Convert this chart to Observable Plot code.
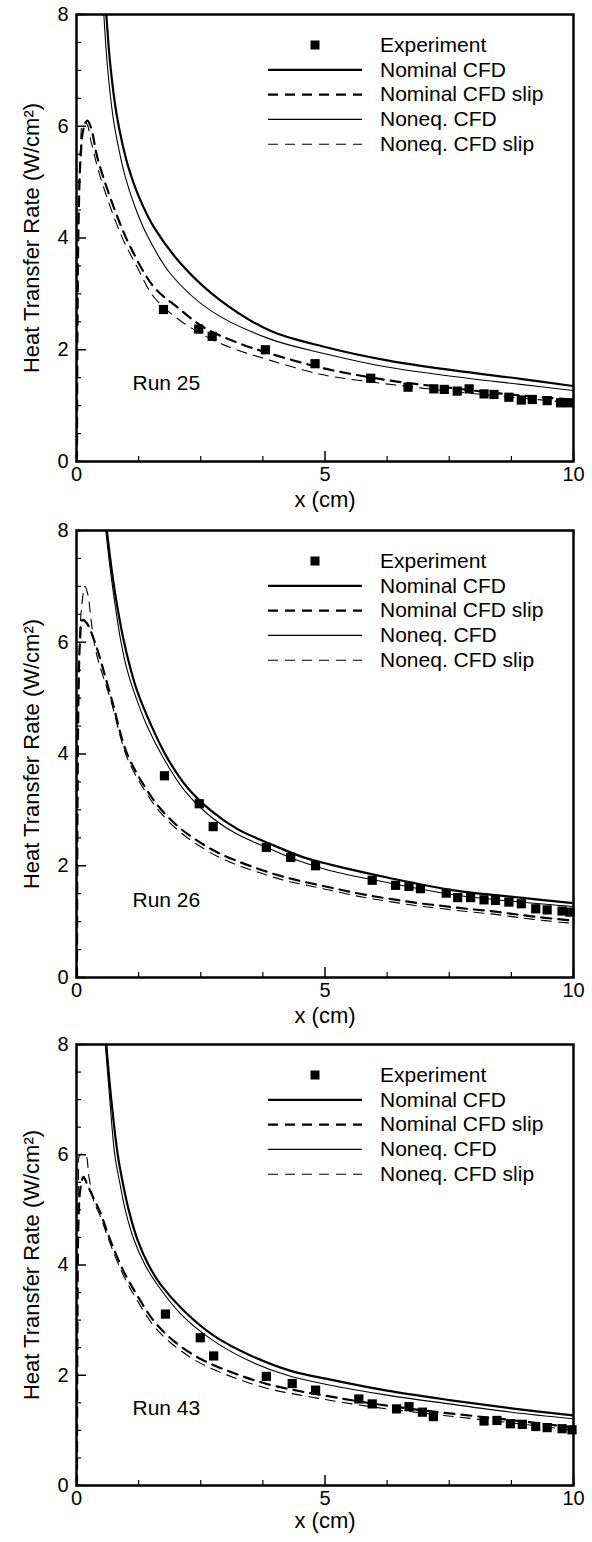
<!DOCTYPE html>
<html>
<head>
<meta charset="utf-8">
<script src="https://cdn.jsdelivr.net/npm/d3@7"></script>
<script src="https://cdn.jsdelivr.net/npm/@observablehq/plot@0.6"></script>
<style>
  html, body { margin: 0; padding: 0; background: #fff; }
  #chart svg { display: block; }
</style>
</head>
<body>
<div id="chart"></div>
<script>
// ---------- labels & ticks ----------
const runLabels = ["Run 25", "Run 26", "Run 43"];
const legendLabels = ["Experiment", "Nominal CFD", "Nominal CFD slip", "Noneq. CFD", "Noneq. CFD slip"];
const xLabel = "x (cm)";
const yLabel = "Heat Transfer Rate (W/cm²)";
const xTicks = [0, 5, 10];
const yTicks = [0, 2, 4, 6, 8];
const xMinorTicks = [1.25, 2.5, 3.75, 6.25, 7.5, 8.75];
const yMinorTicks = [0.5, 1, 1.5, 2.5, 3, 3.5, 4.5, 5, 5.5, 6.5, 7, 7.5];

// ---------- Run 25 ----------
const run25Experiment = [[1.75,2.72],[2.46,2.37],[2.73,2.24],[3.80,2.00],[4.80,1.75],[5.92,1.49],[6.67,1.33],[7.19,1.30],[7.40,1.29],[7.66,1.26],[7.90,1.30],[8.20,1.21],[8.40,1.20],[8.70,1.15],[8.95,1.10],[9.17,1.11],[9.47,1.09],[9.74,1.05],[9.91,1.05]];
const run25Nominal = [[0.60,8],[0.68,7.1],[0.80,6.25],[0.92,5.7],[1.05,5.25],[1.25,4.75],[1.56,4.19],[2.16,3.48],[2.90,2.88],[3.90,2.34],[5.0,2.05],[6.25,1.81],[7.59,1.63],[8.93,1.48],[10,1.35]];
const run25NominalSlip = [[0.01,0],[0.02,2.5],[0.04,4.2],[0.08,5.4],[0.14,5.95],[0.22,6.1],[0.30,5.95],[0.42,5.44],[0.75,4.55],[1.09,3.83],[1.56,3.12],[2.03,2.76],[2.56,2.40],[3.23,2.13],[3.90,1.93],[4.91,1.68],[5.45,1.58],[6.45,1.43],[7.5,1.32],[8.5,1.22],[9.5,1.14],[10,1.11]];
const run25Noneq = [[0.55,8],[0.62,7.1],[0.73,6.2],[0.85,5.6],[0.98,5.1],[1.18,4.55],[1.42,4.05],[1.89,3.36],[2.70,2.70],[3.90,2.19],[5.0,1.93],[6.25,1.69],[7.59,1.52],[8.93,1.38],[10,1.27]];
const run25NoneqSlip = [[0.01,0],[0.02,2.5],[0.04,4.4],[0.08,5.6],[0.13,6.05],[0.20,6.05],[0.30,5.7],[0.48,5.09],[0.89,4.07],[1.22,3.48],[1.56,2.94],[2.09,2.52],[2.90,2.11],[3.90,1.81],[4.91,1.56],[5.45,1.48],[6.5,1.36],[7.5,1.26],[8.5,1.17],[9.5,1.09],[10,1.05]];

// ---------- Run 26 ----------
const run26Experiment = [[1.77,3.61],[2.47,3.11],[2.75,2.70],[3.82,2.33],[4.31,2.15],[4.81,2.00],[5.95,1.74],[6.42,1.65],[6.69,1.63],[6.92,1.59],[7.44,1.51],[7.67,1.43],[7.93,1.43],[8.20,1.39],[8.43,1.38],[8.70,1.35],[8.95,1.32],[9.24,1.23],[9.47,1.21],[9.77,1.19],[9.93,1.17]];
const run26Nominal = [[0.61,8],[0.70,7.35],[0.80,6.75],[0.95,6.03],[1.08,5.55],[1.22,5.13],[1.49,4.54],[1.82,3.94],[2.23,3.40],[2.70,2.99],[3.23,2.66],[3.90,2.39],[4.57,2.15],[5.11,2.02],[6.25,1.79],[7.59,1.56],[8.93,1.43],[10,1.33]];
const run26NominalSlip = [[0.01,0],[0.02,3.0],[0.04,5.0],[0.07,6.0],[0.12,6.4],[0.20,6.35],[0.37,6.0],[0.70,5.0],[1.02,4.0],[1.42,3.35],[1.69,3.02],[2.06,2.69],[2.43,2.45],[2.83,2.24],[3.30,2.06],[3.74,1.92],[4.17,1.80],[4.64,1.70],[5.11,1.61],[5.58,1.52],[6.0,1.45],[6.44,1.39],[6.88,1.33],[7.38,1.28],[7.85,1.23],[8.32,1.19],[8.76,1.14],[9.2,1.09],[9.74,1.04],[10,1.02]];
const run26Noneq = [[0.59,8],[0.68,7.3],[0.78,6.65],[0.89,6.03],[1.02,5.5],[1.15,5.13],[1.42,4.5],[1.76,3.91],[2.17,3.35],[2.63,2.93],[3.2,2.58],[3.90,2.30],[4.5,2.08],[5.11,1.91],[6.25,1.70],[7.59,1.48],[8.93,1.35],[10,1.27]];
const run26NoneqSlip = [[0.01,0],[0.02,3.5],[0.05,5.6],[0.10,6.6],[0.17,7.0],[0.23,6.85],[0.30,6.35],[0.40,5.8],[0.70,4.93],[1.02,3.93],[1.42,3.28],[1.69,2.95],[2.06,2.62],[2.43,2.38],[2.83,2.17],[3.30,1.99],[3.74,1.86],[4.17,1.74],[4.64,1.65],[5.11,1.56],[5.58,1.47],[6.0,1.40],[6.44,1.34],[6.88,1.28],[7.38,1.23],[7.85,1.18],[8.32,1.14],[8.76,1.09],[9.2,1.04],[9.74,0.99],[10,0.97]];

// ---------- Run 43 ----------
const run43Experiment = [[1.79,3.11],[2.49,2.68],[2.76,2.35],[3.82,1.98],[4.34,1.85],[4.81,1.73],[5.68,1.57],[5.95,1.48],[6.44,1.39],[6.69,1.43],[6.96,1.33],[7.18,1.25],[8.20,1.17],[8.46,1.18],[8.73,1.12],[8.97,1.11],[9.24,1.07],[9.47,1.05],[9.77,1.03],[9.97,1.01]];
const run43Nominal = [[0.60,8],[0.70,7.0],[0.83,6.0],[0.94,5.45],[1.05,5.0],[1.23,4.45],[1.45,4.0],[1.69,3.65],[2.16,3.17],[2.76,2.72],[3.5,2.36],[4.31,2.08],[5.11,1.92],[6.25,1.72],[7.5,1.55],[8.75,1.40],[10,1.27]];
const run43NominalSlip = [[0.01,0],[0.02,3.0],[0.04,4.8],[0.08,5.4],[0.14,5.6],[0.22,5.45],[0.35,5.2],[0.48,4.95],[0.68,4.45],[0.95,3.88],[1.22,3.45],[1.56,2.98],[1.96,2.62],[2.49,2.30],[3.16,2.04],[3.84,1.84],[4.5,1.71],[5.0,1.63],[6.0,1.48],[7.0,1.36],[8.0,1.26],[9.0,1.16],[10,1.05]];
const run43Noneq = [[0.58,8],[0.67,7.0],[0.77,6.0],[0.88,5.45],[0.98,5.0],[1.16,4.45],[1.38,4.0],[1.62,3.65],[2.09,3.12],[2.70,2.66],[3.43,2.28],[4.24,2.0],[5.11,1.82],[6.25,1.64],[7.5,1.48],[8.75,1.33],[10,1.21]];
const run43NoneqSlip = [[0.01,0],[0.02,3.5],[0.04,5.5],[0.07,6.0],[0.18,6.0],[0.25,5.6],[0.35,5.15],[0.48,4.88],[0.68,4.38],[0.95,3.80],[1.22,3.36],[1.56,2.89],[1.96,2.54],[2.49,2.22],[3.16,1.96],[3.84,1.76],[4.5,1.64],[5.0,1.56],[6.0,1.42],[7.0,1.31],[8.0,1.21],[9.0,1.11],[10,1.0]];

// ---------- assembly ----------
const runs = [
  {label: runLabels[0], exp: run25Experiment, nom: run25Nominal, nomSlip: run25NominalSlip, neq: run25Noneq, neqSlip: run25NoneqSlip},
  {label: runLabels[1], exp: run26Experiment, nom: run26Nominal, nomSlip: run26NominalSlip, neq: run26Noneq, neqSlip: run26NoneqSlip},
  {label: runLabels[2], exp: run43Experiment, nom: run43Nominal, nomSlip: run43NominalSlip, neq: run43Noneq, neqSlip: run43NoneqSlip}
];

// layout per panel (svg heights sum to 1542)
const layouts = [
  {height: 516, frameH: 447, xLabelDy: 45, runDy: -72},
  {height: 514, frameH: 447, xLabelDy: 45, runDy: -71},
  {height: 512, frameH: 441, xLabelDy: 42, runDy: -71}
];

const W = 592, ML = 76, MR = 19, MT = 14;
const frameW = W - ML - MR;
const FONT = "'Liberation Sans', Arial, Helvetica, sans-serif";
const DASH = "10,7";

const seriesStyle = {
  "Experiment": {kind: "dot"},
  "Nominal CFD": {kind: "line", width: 2.2, dash: null},
  "Nominal CFD slip": {kind: "line", width: 2.2, dash: DASH},
  "Noneq. CFD": {kind: "line", width: 1.1, dash: null},
  "Noneq. CFD slip": {kind: "line", width: 1.1, dash: DASH}
};

const toObj = (arr) => arr.map(([x, y]) => ({x, y}));

function legendMark(index, scales, values, dims) {
  const g = d3.create("svg:g")
    .attr("font-size", 21)
    .attr("font-family", FONT)
    .attr("text-anchor", "start");
  const x0 = dims.marginLeft, y0 = dims.marginTop;
  legendLabels.forEach((label, i) => {
    const cy = y0 + 31 + 24.8 * i;
    const st = seriesStyle[label];
    if (st.kind === "dot") {
      g.append("rect")
        .attr("x", x0 + 239 - 4.5).attr("y", cy - 4.5)
        .attr("width", 9).attr("height", 9).attr("fill", "black");
    } else {
      g.append("line")
        .attr("x1", x0 + 192).attr("x2", x0 + 286)
        .attr("y1", cy).attr("y2", cy)
        .attr("stroke", "black").attr("stroke-width", st.width)
        .attr("stroke-dasharray", st.dash);
    }
    g.append("text")
      .attr("x", x0 + 304).attr("y", cy).attr("dy", "0.32em")
      .attr("text-anchor", "start")
      .attr("fill", "black").text(label);
  });
  return g.node();
}

function lineMark(data, label) {
  const st = seriesStyle[label];
  return Plot.line(toObj(data), {
    x: "x", y: "y", curve: "catmull-rom", clip: true,
    stroke: "black", strokeWidth: st.width,
    strokeDasharray: st.dash ?? undefined
  });
}

function panel(run, lay) {
  return Plot.plot({
    width: W, height: lay.height,
    marginTop: MT, marginLeft: ML, marginRight: MR,
    marginBottom: lay.height - MT - lay.frameH,
    x: {domain: [0, 10]},
    y: {domain: [0, 8]},
    style: {fontFamily: FONT, fontSize: "20px", color: "black", background: "white"},
    marks: [
      lineMark(run.nomSlip, "Nominal CFD slip"),
      lineMark(run.neqSlip, "Noneq. CFD slip"),
      lineMark(run.neq, "Noneq. CFD"),
      lineMark(run.nom, "Nominal CFD"),
      Plot.dot(toObj(run.exp), {x: "x", y: "y", symbol: "square", r: 5.2, fill: "black", stroke: null}),
      Plot.frame({stroke: "black", strokeWidth: 2.5}),
      Plot.tickY(yTicks, {y: d => d, insetRight: frameW - 10, stroke: "black", strokeWidth: 1.5}),
      Plot.tickY(yMinorTicks, {y: d => d, insetRight: frameW - 5, stroke: "black", strokeWidth: 1.2}),
      Plot.tickX(xTicks, {x: d => d, insetTop: lay.frameH - 10, stroke: "black", strokeWidth: 1.5}),
      Plot.tickX(xMinorTicks, {x: d => d, insetTop: lay.frameH - 5, stroke: "black", strokeWidth: 1.2}),
      Plot.axisX({ticks: xTicks, tickSize: 0, tickPadding: 5, label: null, tickFormat: d => String(d)}),
      Plot.axisY({ticks: yTicks, tickSize: 0, tickPadding: 8, label: null, tickFormat: d => String(d)}),
      Plot.text([xLabel], {text: d => d, frameAnchor: "bottom", textAnchor: "middle", dy: lay.xLabelDy, lineAnchor: "bottom", fontSize: 22, fill: "black"}),
      Plot.text([yLabel], {text: d => d, frameAnchor: "left", textAnchor: "middle", dx: -37.5, rotate: -90, lineAnchor: "bottom", fontSize: 22, fill: "black"}),
      Plot.text([run.label], {text: d => d, frameAnchor: "bottom-left", dx: 56, dy: lay.runDy, textAnchor: "start", lineAnchor: "bottom", fontSize: 21, fill: "black"}),
      legendMark
    ]
  });
}

const root = document.getElementById("chart");
runs.forEach((run, i) => root.appendChild(panel(run, layouts[i])));
</script>
</body>
</html>
